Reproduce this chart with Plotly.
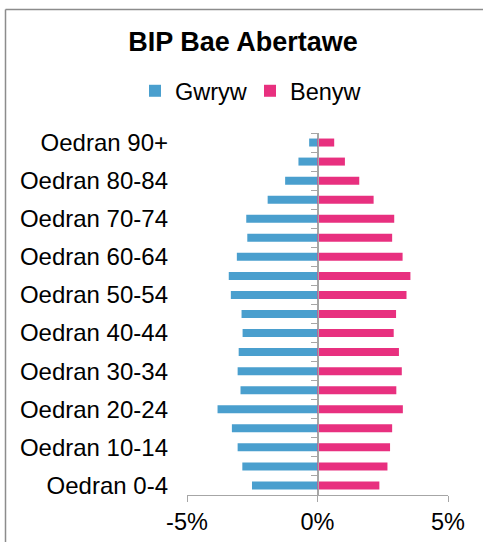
import plotly.graph_objects as go

categories = ["Oedran 0-4", "Oedran 5-9", "Oedran 10-14", "Oedran 15-19", "Oedran 20-24",
              "Oedran 25-29", "Oedran 30-34", "Oedran 35-39", "Oedran 40-44", "Oedran 45-49",
              "Oedran 50-54", "Oedran 55-59", "Oedran 60-64", "Oedran 65-69", "Oedran 70-74",
              "Oedran 75-79", "Oedran 80-84", "Oedran 85-89", "Oedran 90+"]
male = [2.51, 2.88, 3.06, 3.28, 3.83, 2.95, 3.06, 3.02, 2.87, 2.91,
        3.32, 3.40, 3.09, 2.69, 2.73, 1.91, 1.24, 0.73, 0.32]
female = [2.37, 2.68, 2.78, 2.86, 3.27, 3.02, 3.23, 3.12, 2.92, 3.01,
          3.41, 3.56, 3.26, 2.86, 2.94, 2.15, 1.60, 1.05, 0.64]
x_ticks = [-5, 0, 5]
x_ticktext = ["-5%", "0%", "5%"]

BLUE = "#4A9FCE"
PINK = "#E8307F"
AXIS = "#A6A6A6"
FONT = "Liberation Sans, Arial, sans-serif"
FS = 23.5

W, H = 483, 542
L, R, T, B = 187, 35, 133, 47
pw, ph = W - L - R, H - T - B

fig = go.Figure()
fig.add_trace(go.Bar(y=categories, x=[-v for v in male], orientation="h", name="Gwryw",
                     marker=dict(color=BLUE, line=dict(width=0)), hoverinfo="skip"))
fig.add_trace(go.Bar(y=categories, x=female, orientation="h", name="Benyw",
                     marker=dict(color=PINK, line=dict(width=0)), hoverinfo="skip"))
# invisible helper trace for the centre category axis (ticks between categories)
fig.add_trace(go.Scatter(y=categories, x=[0] * len(categories), yaxis="y2", mode="markers",
                         marker=dict(opacity=0), showlegend=False, hoverinfo="skip"))


def px_x(p):
    return (p - L) / pw


def px_y(p):
    return (H - B - p) / ph


# outer chart border: only the top and left edges fall inside the picture
border = dict(color="#8C8C8C", width=1.5)
fig.add_shape(type="line", xref="paper", yref="paper",
              x0=px_x(5.5), x1=px_x(W), y0=px_y(9.5), y1=px_y(9.5), line=border, layer="below")
fig.add_shape(type="line", xref="paper", yref="paper",
              x0=px_x(5.5), x1=px_x(5.5), y0=px_y(9.5), y1=px_y(H), line=border, layer="below")
# keep the right margin strip clean
fig.add_shape(type="rect", xref="paper", yref="paper",
              x0=px_x(472), x1=px_x(W + 5), y0=px_y(H + 5), y1=px_y(11),
              line=dict(width=0), fillcolor="white", layer="above")

fig.update_layout(
    width=W, height=H,
    margin=dict(l=L, r=R, t=T, b=B, autoexpand=False),
    paper_bgcolor="white", plot_bgcolor="white",
    barmode="relative", bargap=0.58,
    font=dict(family=FONT, color="black", size=FS),
    title=dict(text="BIP Bae Abertawe", x=243 / W, xanchor="center",
               y=1 - 42 / H, yanchor="middle",
               font=dict(family=FONT, size=27, color="black", weight="bold")),
    legend=dict(orientation="h", x=px_x(250), xanchor="center", y=px_y(91), yanchor="middle",
                entrywidth=70, entrywidthmode="pixels",
                font=dict(family=FONT, size=FS, color="black"),
                itemclick=False, itemdoubleclick=False, traceorder="normal"),
    xaxis=dict(range=[-5, 5], tickvals=x_ticks, ticktext=x_ticktext, automargin=False,
               showgrid=True, gridcolor=AXIS, gridwidth=1.3,
               zeroline=False, showline=True, linecolor=AXIS, linewidth=1.3,
               ticks="outside", ticklen=6, tickcolor=AXIS, tickwidth=1.3,
               tickfont=dict(size=FS), fixedrange=True),
    yaxis=dict(categoryorder="array", categoryarray=categories, automargin=False,
               range=[-0.5, len(categories) - 0.5],
               tickvals=categories[::2], showgrid=False, showline=False,
               ticks="", ticklabelstandoff=18, tickfont=dict(size=24), fixedrange=True),
    yaxis2=dict(overlaying="y", anchor="free", position=0.5, side="left", automargin=False,
                categoryorder="array", categoryarray=categories,
                range=[-0.5, len(categories) - 0.5],
                showticklabels=False, showgrid=False, showline=True,
                linecolor=AXIS, linewidth=1.3, ticks="outside", tickson="boundaries",
                ticklen=6, tickcolor=AXIS, tickwidth=1.3, fixedrange=True),
)

fig.write_html("out.html", config={"displayModeBar": False},
               post_script="document.body.style.margin='0';document.body.style.overflow='hidden';")
